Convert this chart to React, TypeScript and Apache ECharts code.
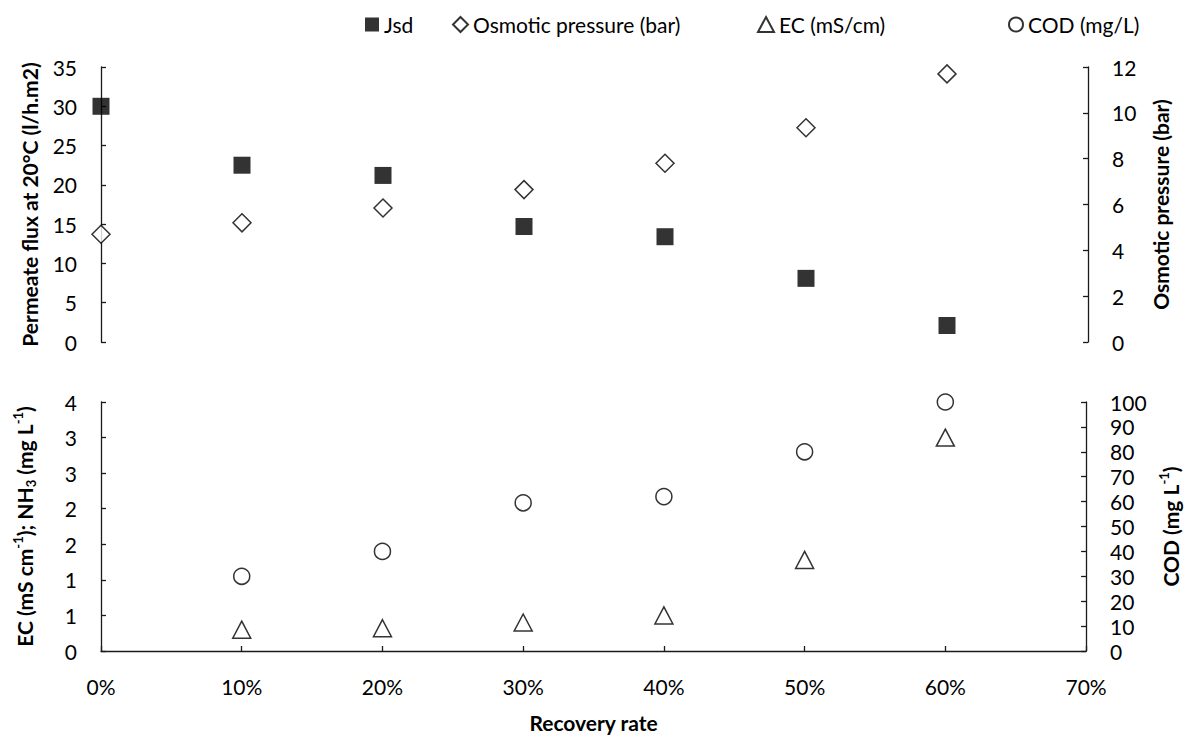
import React, { useEffect, useRef } from "react";
import * as echarts from "echarts";

// ---- data ----
const recoveryTop = [0, 0.1, 0.2, 0.3, 0.4, 0.5, 0.6];
const jsd = [30, 22.5, 21.2, 14.7, 13.4, 8.1, 2.1];
const osmotic = [4.7, 5.2, 5.85, 6.65, 7.8, 9.35, 11.7];
const recoveryBottom = [0.1, 0.2, 0.3, 0.4, 0.5, 0.6];
const ec = [0.3, 0.32, 0.4, 0.5, 1.28, 3.0];
const cod = [30, 40, 59.5, 62, 80, 100];
const xTickLabels = ["0%", "10%", "20%", "30%", "40%", "50%", "60%", "70%"];
const ecTickLabels = ["0", "1", "1", "2", "2", "3", "3", "4"];

const FONT = "Lato, 'Open Sans', sans-serif";
const AXIS_COLOR = "#1a1a1a";

const pairs = (xs: number[], ys: number[]) => xs.map((x, i) => [x, ys[i]]);

export default function App() {
  const ref = useRef<HTMLDivElement>(null);
  useEffect(() => {
    if (!ref.current) return;
    const chart = echarts.init(ref.current, null, { renderer: "svg" });
    const axisLabel = { color: "#000", fontSize: 21, fontFamily: FONT };
    const nameStyle = { color: "#000", fontSize: 21, fontWeight: "bold" as const, fontFamily: FONT };
    const axisLine = { show: true, lineStyle: { color: AXIS_COLOR, width: 1.3 } };
    const axisTick = { show: true, inside: true, length: 5, lineStyle: { color: AXIS_COLOR, width: 1.3 } };
    const legendText = { color: "#000", fontSize: 21, fontFamily: FONT };
    const richBase = { fontWeight: "bold" as const, fontFamily: FONT, color: "#000" };
    const rich = {
      n: { ...richBase, fontSize: 21, lineHeight: 26 },
      sup: { ...richBase, fontSize: 13, lineHeight: 13, verticalAlign: "top" },
      sub: { ...richBase, fontSize: 13, lineHeight: 13, verticalAlign: "bottom" },
    };
    const option: any = {
      animation: false,
      backgroundColor: "#fff",
      textStyle: { fontFamily: FONT },
      legend: [
        { data: ["Jsd"], left: 360, top: 9, itemWidth: 14, itemHeight: 14, itemGap: 0, selectedMode: false, textStyle: legendText },
        { data: ["Osmotic pressure (bar)"], left: 447, top: 9, itemWidth: 15, itemHeight: 15, itemGap: 0, selectedMode: false, textStyle: legendText },
        { data: ["EC (mS/cm)"], left: 752, top: 9, itemWidth: 16, itemHeight: 15, itemGap: 0, selectedMode: false, textStyle: legendText },
        { data: ["COD (mg/L)"], left: 1003, top: 9, itemWidth: 14, itemHeight: 14, itemGap: 0, selectedMode: false, textStyle: legendText },
      ],
      grid: [
        { left: 101, right: 101, top: 67, height: 275 },
        { left: 101, right: 101, top: 402, height: 249 },
      ],
      xAxis: [
        {
          type: "value", gridIndex: 0, min: 0, max: 0.7, interval: 0.1,
          axisLine: { show: false }, axisTick: { show: false }, axisLabel: { show: false }, splitLine: { show: false },
        },
        {
          type: "value", gridIndex: 1, min: 0, max: 0.7, interval: 0.1,
          axisLine, axisTick, splitLine: { show: false },
          axisLabel: { ...axisLabel, margin: 25, formatter: (v: number) => xTickLabels[Math.round(v * 10)] },
          name: "Recovery rate", nameLocation: "middle", nameGap: 61, nameTextStyle: nameStyle,
        },
      ],
      yAxis: [
        {
          type: "value", gridIndex: 0, position: "left", min: 0, max: 35, interval: 5,
          axisLine, axisTick, splitLine: { show: false },
          axisLabel: { ...axisLabel, margin: 24 },
          name: "Permeate flux at 20°C (l/h.m2)", nameLocation: "middle", nameRotate: 90, nameGap: 61, nameTextStyle: nameStyle,
        },
        {
          type: "value", gridIndex: 0, position: "right", min: 0, max: 12, interval: 2,
          axisLine, axisTick, splitLine: { show: false },
          axisLabel: { ...axisLabel, margin: 24 },
          name: "Osmotic pressure (bar)", nameLocation: "middle", nameRotate: 90, nameGap: 62, nameTextStyle: nameStyle,
        },
        {
          type: "value", gridIndex: 1, position: "left", min: 0, max: 3.5, interval: 0.5,
          axisLine, axisTick, splitLine: { show: false },
          axisLabel: { ...axisLabel, margin: 24, formatter: (v: number) => ecTickLabels[Math.round(v * 2)] },
          name: "{n|EC (mS cm}{sup|-1}{n|); NH}{sub|3}{n| (mg L}{sup|-1}{n|)}",
          nameLocation: "middle", nameRotate: 90, nameGap: 64,
          nameTextStyle: { ...nameStyle, rich },
        },
        {
          type: "value", gridIndex: 1, position: "right", min: 0, max: 100, interval: 10,
          axisLine, axisTick, splitLine: { show: false },
          axisLabel: { ...axisLabel, margin: 24 },
          name: "{n|COD (mg L}{sup|-1}{n|)}",
          nameLocation: "middle", nameRotate: 90, nameGap: 64,
          nameTextStyle: { ...nameStyle, rich },
        },
      ],
      series: [
        {
          name: "Jsd", type: "scatter", xAxisIndex: 0, yAxisIndex: 0,
          symbol: "rect", symbolSize: 17,
          itemStyle: { color: "#000", borderColor: "#000", borderWidth: 0 },
          data: pairs(recoveryTop, jsd),
        },
        {
          name: "Osmotic pressure (bar)", type: "scatter", xAxisIndex: 0, yAxisIndex: 1,
          symbol: "diamond", symbolSize: 18,
          itemStyle: { color: "#fff", borderColor: "#000", borderWidth: 1.5 },
          data: pairs(recoveryTop, osmotic),
        },
        {
          name: "EC (mS/cm)", type: "scatter", xAxisIndex: 1, yAxisIndex: 2,
          symbol: "triangle", symbolSize: [18, 17],
          itemStyle: { color: "#fff", borderColor: "#000", borderWidth: 1.5 },
          data: pairs(recoveryBottom, ec),
        },
        {
          name: "COD (mg/L)", type: "scatter", xAxisIndex: 1, yAxisIndex: 3,
          symbol: "circle", symbolSize: 16,
          itemStyle: { color: "#fff", borderColor: "#000", borderWidth: 1.5 },
          data: pairs(recoveryBottom, cod),
        },
      ],
    };
    chart.setOption(option);
    return () => chart.dispose();
  }, []);
  return (
    <div
      ref={ref}
      style={{ position: "fixed", left: 0, top: 0, width: 1189, height: 736, background: "#fff" }}
    />
  );
}
